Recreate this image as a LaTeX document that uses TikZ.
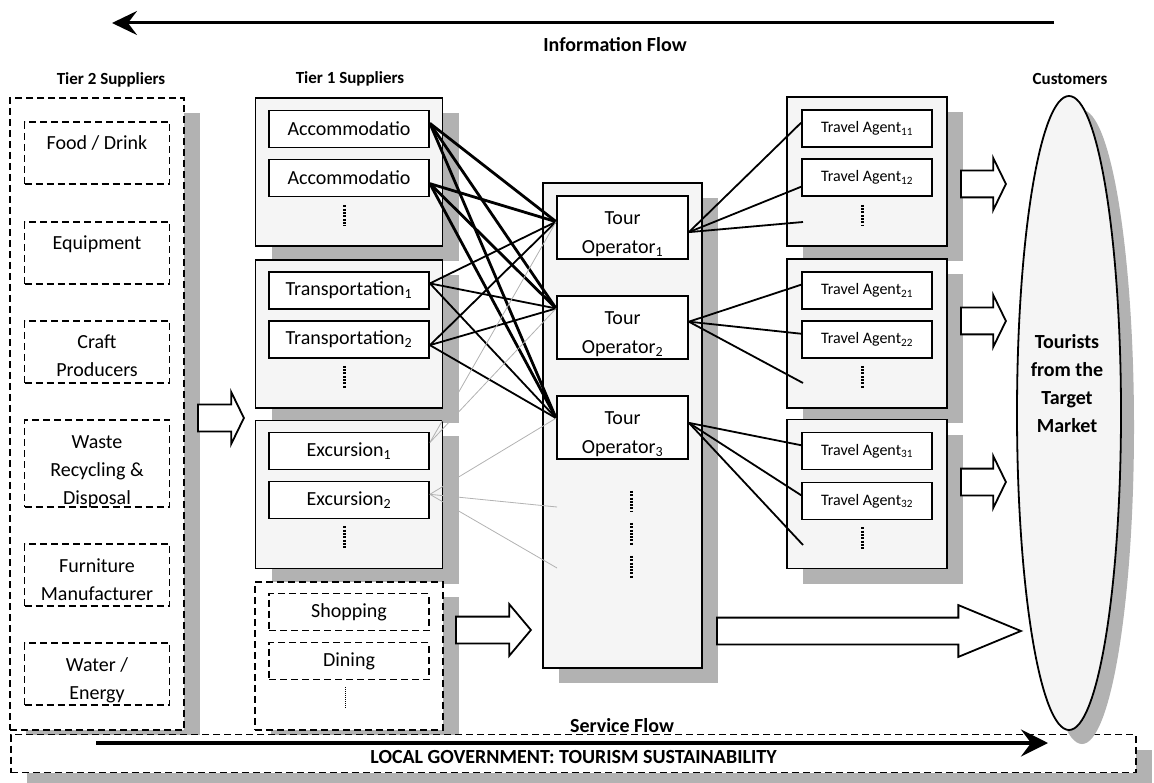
\documentclass[tikz,border=0pt]{standalone}
\usepackage{fontspec}
\setmainfont{Carlito}
\usepackage{tikz}
\usetikzlibrary{arrows.meta, shapes.geometric, shapes.arrows, shadows}
\tikzstyle{sShadow} = [drop shadow={shadow xshift=16pt, shadow yshift=-15pt, fill=black!30, opacity=1}]
\tikzstyle{sGroup} = [rectangle, draw=black, line width=1.8pt, fill=black!4, minimum width=187pt, minimum height=148pt, sShadow]
\tikzstyle{sOuter} = [rectangle, draw=black, line width=1.8pt, dash pattern=on 7pt off 4pt, fill=white, sShadow]
\tikzstyle{sItem} = [rectangle, draw=black, line width=1.8pt, fill=white, minimum width=160pt, minimum height=37pt, inner sep=0pt, font=\fontsize{20}{24}\selectfont]
\tikzstyle{sDashItem} = [sItem, dash pattern=on 7pt off 4pt]
\tikzstyle{sSupply} = [rectangle, draw=black, line width=1.8pt, dash pattern=on 7pt off 4pt, minimum width=145pt, inner sep=0pt, text height=28pt, text depth=34pt, align=center, font=\fontsize{20}{28}\selectfont]
\tikzstyle{sSupplyTwo} = [sSupply, text height=56pt, text depth=6pt]
\tikzstyle{sOperator} = [rectangle, draw=black, line width=1.8pt, fill=white, minimum width=131pt, minimum height=63pt, inner sep=0pt, text height=57.5pt, text depth=5.5pt, align=center, font=\fontsize{20}{29}\selectfont]
\tikzstyle{sAgentGroup} = [sGroup, minimum width=160pt, minimum height=149pt]
\tikzstyle{sAgent} = [sItem, minimum width=130pt, font=\fontsize{16}{20}\selectfont]
\tikzstyle{sMarket} = [ellipse, draw=black, line width=1.8pt, fill=black!4, minimum width=104pt, minimum height=634pt, inner sep=0pt, drop shadow={shadow xshift=13pt, shadow yshift=-14pt, fill=black!30, opacity=1}]
\tikzstyle{sBlock} = [single arrow, draw=black, line width=1.8pt, fill=white, inner sep=0pt, text height=25pt, text depth=0pt, single arrow head extend=12.5pt, anchor=tail]
\tikzstyle{sHead} = [font=\bfseries\fontsize{17}{20}\selectfont]
\tikzstyle{sFlowLbl} = [font=\bfseries\fontsize{20}{24}\selectfont]
\tikzstyle{sHeavy} = [line width=2.8pt]
\tikzstyle{sLink} = [line width=1.8pt]
\tikzstyle{sFaint} = [line width=0.8pt, draw=black!30]
\tikzstyle{sDots} = [line width=3pt, dash pattern=on 2pt off 1.3pt]
\tikzstyle{sThinDots} = [line width=1pt, dash pattern=on 1pt off 1pt]
\tikzstyle{sInfo} = [line width=3pt, -{Stealth[length=25pt, width=24pt, inset=9pt]}]
\tikzstyle{sService} = [line width=4pt, -{Stealth[length=27pt, width=27pt, inset=10pt]}]

\begin{document}
\begin{tikzpicture}[x=1pt, y=-1pt, node distance=49pt]
    \useasboundingbox (0,0) rectangle (1154,783);

    \coordinate (infoStart) at (1054,23);
    \coordinate (infoEnd) at (112,23);
    \draw [sInfo] (infoStart) -- (infoEnd);
    \node (infoLbl) [sFlowLbl] at (615,45) {Information Flow};

    \node (tierTwoLbl) [sHead] at (111,80) {Tier 2 Suppliers};
    \node (tierOneLbl) [sHead] at (350,79) {Tier 1 Suppliers};
    \node (custLbl) [sHead] at (1070,79) {Customers};

    \node (tierTwo) [sOuter, minimum width=174pt, minimum height=632pt] at (97,414) {};
    \node (food) [sSupply] at (97,153) {Food / Drink};
    \node (equip) [sSupply] at (97,253) {Equipment};
    \node (craft) [sSupplyTwo] at (97,352) {Craft\\Producers};
    \node (waste) [sSupply, text height=84pt, text depth=3pt] at (97,463.5) {Waste\\Recycling \&\\Disposal};
    \node (furniture) [sSupplyTwo] at (97,575) {Furniture\\Manufacturer};
    \node (water) [sSupplyTwo] at (97,674) {Water /\\Energy};

    \node (accGroup) [sGroup] at (349,172) {};
    \node (acc1) [sItem] at (349,129) {Accommodatio};
    \node (acc2) [sItem, below of=acc1] {Accommodatio};
    \node (transGroup) [sGroup] at (349,334) {};
    \node (trans1) [sItem] at (349,290.5) {Transportation\textsubscript{1}};
    \node (trans2) [sItem, below of=trans1] {Transportation\textsubscript{2}};
    \node (excGroup) [sGroup] at (349,494.5) {};
    \node (exc1) [sItem] at (349,451) {Excursion\textsubscript{1}};
    \node (exc2) [sItem, below of=exc1] {Excursion\textsubscript{2}};
    \node (shopGroup) [sOuter, minimum width=188pt, minimum height=148pt] at (349,656) {};
    \node (shop) [sDashItem] at (349,612) {Shopping};
    \node (dine) [sDashItem, below of=shop] {Dining};

    \draw [sDots] ([xshift=-5pt, yshift=-8pt]acc2.south) -- ++(0,21);
    \draw [sDots] ([xshift=-5pt, yshift=-7pt]trans2.south) -- ++(0,22);
    \draw [sDots] ([xshift=-5pt, yshift=-7pt]exc2.south) -- ++(0,22);
    \draw [sThinDots] ([xshift=-4pt, yshift=-7pt]dine.south) -- ++(0,21);

    \node (tourCol) [sGroup, minimum width=159pt, minimum height=485pt] at (622.5,425.5) {};
    \node (to1) [sOperator] at (622.5,227.5) {Tour\\Operator\textsubscript{1}};
    \node (to2) [sOperator, below of=to1, node distance=100pt] {Tour\\Operator\textsubscript{2}};
    \node (to3) [sOperator, below of=to2, node distance=100pt] {Tour\\Operator\textsubscript{3}};
    \draw [sDots] ([xshift=8.5pt, yshift=-31pt]to3.south) -- ++(0,20) ++(0,12) -- ++(0,23) ++(0,10) -- ++(0,22);
    \coordinate (moreOpA) at (557,507);
    \coordinate (moreOpB) at (557,568);

    \node (agentGroupA) [sAgentGroup] at (867,171.5) {};
    \node (ta11) [sAgent] at (867,128.5) {Travel Agent\textsubscript{11}};
    \node (ta12) [sAgent, below of=ta11] {Travel Agent\textsubscript{12}};
    \node (agentGroupB) [sAgentGroup] at (867,333.5) {};
    \node (ta21) [sAgent] at (867,290.5) {Travel Agent\textsubscript{21}};
    \node (ta22) [sAgent, below of=ta21] {Travel Agent\textsubscript{22}};
    \node (agentGroupC) [sAgentGroup] at (867,494) {};
    \node (ta31) [sAgent] at (867,451) {Travel Agent\textsubscript{31}};
    \node (ta32) [sAgent, below of=ta31, node distance=50pt] {Travel Agent\textsubscript{32}};
    \draw [sDots] ([xshift=-5pt, yshift=-8pt]ta12.south) -- ++(0,21);
    \draw [sDots] ([xshift=-5pt, yshift=-7pt]ta22.south) -- ++(0,22);
    \draw [sDots] ([xshift=-5pt, yshift=-7pt]ta32.south) -- ++(0,22);
    \coordinate (moreAgA) at (803,222);
    \coordinate (moreAgB) at (803,383);
    \coordinate (moreAgC) at (803,545);

    \node (supplyArrow) [sBlock, minimum height=46pt, single arrow tip angle=128] at (197,418) {};
    \node (shopArrow) [sBlock, minimum height=75pt, single arrow tip angle=100] at (455,630) {};
    \node (marketArrow) [sBlock, minimum height=304pt, single arrow tip angle=45] at (716,631) {};
    \node (agentArrowA) [sBlock, minimum height=45pt, single arrow tip angle=128] at (960,184) {};
    \node (agentArrowB) [sBlock, minimum height=45pt, single arrow tip angle=128] at (960,321) {};
    \node (agentArrowC) [sBlock, minimum height=45pt, single arrow tip angle=128] at (960,482) {};

    \node (govBox) [sOuter, minimum width=1125pt, minimum height=38pt, inner sep=0pt, text height=22pt, text depth=2pt, font=\bfseries\fontsize{20}{24}\selectfont] at (573.5,753.5) {LOCAL GOVERNMENT: TOURISM SUSTAINABILITY};
    \node (serviceLbl) [sFlowLbl] at (622,726) {Service Flow};
    \coordinate (serviceStart) at (96,743);
    \coordinate (serviceEnd) at (1048,743);
    \draw [sService] (serviceStart) -- (serviceEnd);

    \node (market) [sMarket] at (1069,413) {};
    \node (marketText) [align=center, font=\bfseries\fontsize{20}{28}\selectfont] at (1067,384) {Tourists\\from the\\Target\\Market};

    \draw [sHeavy] (acc1.4) -- (to1.175);
    \draw [sHeavy] (acc1.4) -- (to2.164);
    \draw [sHeavy] (acc1.4) -- (to3.172);
    \draw [sHeavy] (acc2.-4) -- (to1.175);
    \draw [sHeavy] (acc2.-4) -- (to2.164);
    \draw [sHeavy] (acc2.-4) -- (to3.172);
    \draw [sLink] (trans1.5) -- (to1.175);
    \draw [sLink] (trans1.5) -- (to2.164);
    \draw [sLink] (trans1.5) -- (to3.172);
    \draw [sLink] (trans2.-4) -- (to1.175);
    \draw [sLink] (trans2.-4) -- (to2.164);
    \draw [sLink] (trans2.-4) -- (to3.172);
    \draw [sFaint] (exc1.6) -- (to1.175);
    \draw [sFaint] (exc1.6) -- (to2.164);
    \draw [sFaint] (exc2.4) -- (to3.172);
    \draw [sFaint] (exc2.4) -- (moreOpA);
    \draw [sFaint] (exc2.4) -- (moreOpB);

    \draw [sLink] (to1.-4) -- (ta11.175);
    \draw [sLink] (to1.-4) -- (ta12.188);
    \draw [sLink] (to1.-4) -- (moreAgA);
    \draw [sLink] (to2.5) -- (ta21.175);
    \draw [sLink] (to2.5) -- (ta22.175);
    \draw [sLink] (to2.5) -- (moreAgB);
    \draw [sLink] (to3.4) -- (ta31.175);
    \draw [sLink] (to3.4) -- (ta32.175);
    \draw [sLink] (to3.4) -- (moreAgC);
\end{tikzpicture}
\end{document}
